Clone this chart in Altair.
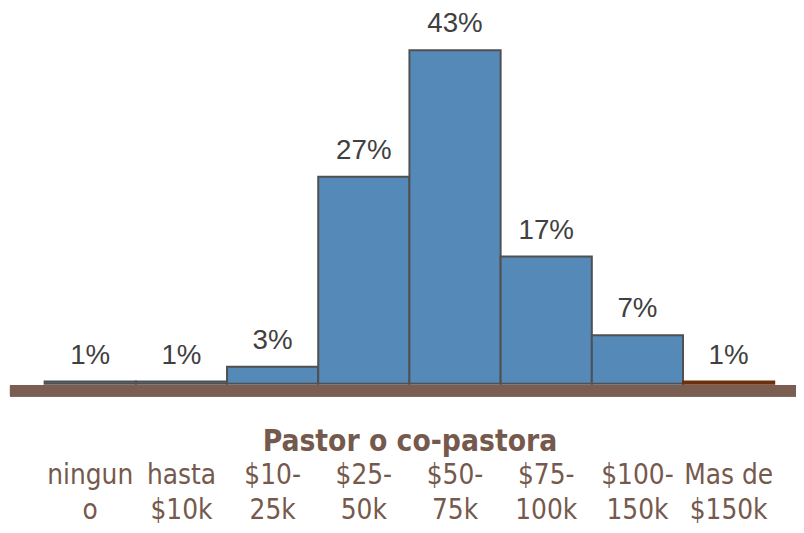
import altair as alt
import pandas as pd

categories = ["ningun|o", "hasta|$10k", "$10-|25k", "$25-|50k", "$50-|75k",
              "$75-|100k", "$100-|150k", "Mas de|$150k"]
values = [0.3, 0.3, 2.2, 26.8, 43.2, 16.5, 6.3, 0.3]
labels = ["1%", "1%", "3%", "27%", "43%", "17%", "7%", "1%"]
groups = ["a", "a", "a", "a", "a", "a", "a", "b"]

df = pd.DataFrame({"cat": categories, "value": values, "label": labels, "grp": groups})

W, H = 737, 337
COND = "DejaVu Sans Condensed"

x = alt.X("cat:N", sort=categories,
          scale=alt.Scale(paddingInner=0, paddingOuter=0),
          axis=alt.Axis(title="Pastor o co-pastora", domain=False, ticks=False,
                        labelAngle=0, labelExpr="split(datum.label, '|')",
                        labelFont=COND, labelFontSize=28,
                        labelColor="#76594d", labelLineHeight=35,
                        labelPadding=79, labelBaseline="top",
                        titleFont=COND, titleFontWeight="bold",
                        titleFontSize=30, titleColor="#76594d",
                        titleBaseline="alphabetic", titleY=67))
y = alt.Y("value:Q", scale=alt.Scale(domain=[0, 43.2], nice=False, zero=True), axis=None)

bars = alt.Chart(df).mark_bar(strokeWidth=2).encode(
    x=x, y=y,
    fill=alt.Fill("grp:N", scale=alt.Scale(domain=["a", "b"], range=["#5589b8", "#7a3b10"]), legend=None),
    stroke=alt.Stroke("grp:N", scale=alt.Scale(domain=["a", "b"], range=["#505050", "#6b2f0e"]), legend=None),
)

text = alt.Chart(df).mark_text(font="Liberation Sans", fontSize=28, color="#404040",
                               baseline="alphabetic", dy=-18).encode(
    x=alt.X("cat:N", sort=categories), y=y, text="label:N")

base = alt.Chart(df).mark_rule(color="#7a5e52", strokeWidth=11).encode(
    x=alt.value(-35), x2=alt.value(766), y=alt.value(H + 7))

chart = alt.layer(bars, text, base).properties(
    width=W, height=H,
    autosize=alt.AutoSizeParams(type="none"),
    padding={"left": 37, "top": 40, "right": 22, "bottom": 142},
).configure_view(stroke=None)

chart.save("out.html", embed_options={"renderer": "svg", "actions": False})
